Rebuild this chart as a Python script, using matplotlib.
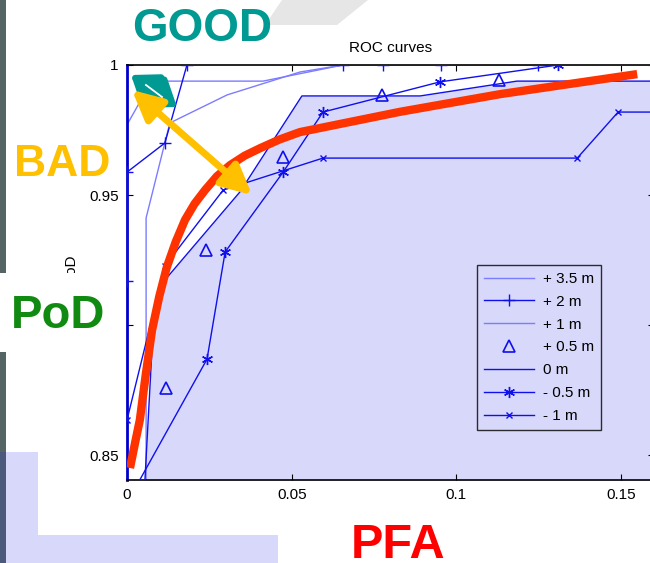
import matplotlib
matplotlib.use('Agg')
import matplotlib.pyplot as plt
from matplotlib.patches import Rectangle, Polygon
from matplotlib.lines import Line2D

# ---------------- data ----------------
title = "ROC curves"
xlabel_txt = "PFA"
ylabel_txt = "PoD"
legend_labels = ["+ 3.5 m", "+ 2 m", "+ 1 m", "+ 0.5 m", "0 m", "- 0.5 m", "- 1 m"]

pfa_p35 = [0.0, 0.004, 0.011, 0.0413, 0.0656, 0.16]
pod_p35 = [0.977, 0.986, 0.9938, 0.9938, 1.0, 1.0]

pfa_p2 = [0.0, 0.0, 0.0115, 0.0182, 0.0656, 0.0777, 0.0954, 0.1249, 0.16]
pod_p2 = [0.917, 0.9588, 0.970, 1.0, 1.0, 1.0, 1.0, 1.0, 1.0]

pfa_p1 = [0.0058, 0.0058, 0.013, 0.0304, 0.0525, 0.0656, 0.16]
pod_p1 = [0.80, 0.9412, 0.9777, 0.9885, 0.9973, 1.0, 1.0]

pfa_p05 = [0.0118, 0.0240, 0.0474, 0.0774, 0.1130]
pod_p05 = [0.8758, 0.9288, 0.9646, 0.9885, 0.9942]

pfa_0 = [0.005, 0.0079, 0.0115, 0.0343, 0.0531, 0.0890, 0.1184, 0.16]
pod_0 = [0.83, 0.898, 0.9173, 0.9512, 0.9881, 0.9881, 0.9938, 0.9938]

pfa_m05 = [0.0015, 0.0243, 0.0298, 0.0474, 0.0595, 0.0950, 0.1309, 0.16]
pod_m05 = [0.835, 0.8869, 0.9281, 0.9588, 0.9819, 0.9935, 1.0, 1.0]

pfa_m1 = [0.0, 0.0115, 0.0292, 0.0595, 0.1367, 0.1491, 0.16]
pod_m1 = [0.8635, 0.9227, 0.9519, 0.9642, 0.9642, 0.9819, 0.9819]

pfa_fit = [0.0009, 0.0025, 0.0039, 0.0057, 0.0076, 0.0098, 0.0121, 0.0148, 0.0176, 0.0205,
           0.0237, 0.0273, 0.0313, 0.0357, 0.0404, 0.0462, 0.0525, 0.0829, 0.1133, 0.1549]
pod_fit = [0.845, 0.855, 0.8635, 0.881, 0.898, 0.911, 0.9223, 0.932, 0.9404, 0.9466,
           0.9519, 0.9572, 0.9615, 0.9651, 0.968, 0.9713, 0.9742, 0.982, 0.9888, 0.9965]

xticks = [0, 0.05, 0.1, 0.15]
xticklabels = ["0", "0.05", "0.1", "0.15"]
yticks = [0.85, 0.9, 0.95, 1.0]
yticklabels = ["0.85", "0.9", "0.95", "1"]

# ---------------- style ----------------
W, H = 650, 563
DARK = '#1010ee'
LIGHT = '#7c7cff'
LAV = '#d8d8fa'

plt.rcParams['font.family'] = ['Liberation Sans', 'DejaVu Sans']

fig = plt.figure(figsize=(W / 100, H / 100), dpi=100)
fig.patch.set_facecolor('white')

def fx(px):
    return px / W

def fy(py):
    return 1 - py / H

# slide decorations (behind axes)
fig.add_artist(Polygon([(fx(265), fy(25)), (fx(282), fy(0)), (fx(368), fy(0)), (fx(337), fy(25))],
                       closed=True, transform=fig.transFigure, facecolor='#e6e6e6', edgecolor='none', zorder=-5))

ax = fig.add_axes([fx(127), fy(480), (654 - 127) / W, (480 - 65) / H])
ax.set_facecolor('white')
ax.set_xlim(0, 0.16)
ax.set_ylim(0.8404, 1.0)

ax.fill_between(pfa_0, pod_0, 0.80, color=LAV, lw=0, zorder=0.5)

ax.plot(pfa_p35, pod_p35, color=LIGHT, lw=1.0, label=legend_labels[0], zorder=2)
ax.plot(pfa_p2, pod_p2, color=DARK, lw=1.0, marker='+', ms=8, mew=1.0,
        markevery=list(range(len(pfa_p2) - 1)), label=legend_labels[1], zorder=3)
ax.plot(pfa_p1, pod_p1, color=LIGHT, lw=1.0, label=legend_labels[2], zorder=2)
ax.plot(pfa_p05, pod_p05, linestyle='none', marker='^', ms=9, mfc='none', mec=DARK, mew=1.2,
        label=legend_labels[3], zorder=3)
ax.plot(pfa_0, pod_0, color=DARK, lw=1.0, label=legend_labels[4], zorder=3)
ax.plot(pfa_m05, pod_m05, color=DARK, lw=1.0, marker=(6, 2, 0), ms=8, mew=1.0,
        markevery=list(range(1, len(pfa_m05) - 1)), label=legend_labels[5], zorder=3)
ax.plot(pfa_m1, pod_m1, color=DARK, lw=1.0, marker='x', ms=5, mew=1.0,
        markevery=list(range(len(pfa_m1) - 1)), label=legend_labels[6], zorder=3)

ax.plot(pfa_fit, pod_fit, color='#ff3300', lw=6, solid_capstyle='butt', solid_joinstyle='round', zorder=4)

ax.set_xticks(xticks)
ax.set_xticklabels(xticklabels)
ax.set_yticks(yticks)
ax.set_yticklabels(yticklabels)
ax.tick_params(direction='in', length=4, width=0.8, top=True, right=True,
               labelsize=11, colors='black', pad=6)
for s in ['top', 'bottom', 'right']:
    ax.spines[s].set_color('black')
    ax.spines[s].set_linewidth(1.2)
ax.spines['left'].set_color('#0000cc')
ax.spines['left'].set_linewidth(2.0)
ax.set_title(title, fontsize=11, pad=9)
ax.set_ylabel(ylabel_txt, fontsize=11)
ax.yaxis.set_label_coords(-0.093, 0.51)

leg = ax.legend(loc='upper left', bbox_to_anchor=(0.664, 0.518), fontsize=11, frameon=True,
                fancybox=False, edgecolor='black', facecolor='none', framealpha=None,
                handlelength=3.3, labelspacing=0.58, borderpad=0.45, handletextpad=0.55,
                borderaxespad=0, numpoints=1)
leg.get_frame().set_linewidth(1.0)

# foreground slide decorations
fig.add_artist(Rectangle((fx(0), fy(273)), fx(6), 273 / H, transform=fig.transFigure,
                         facecolor='#556565', edgecolor='none', zorder=5))
fig.add_artist(Rectangle((fx(0), fy(452)), fx(6), 100 / H, transform=fig.transFigure,
                         facecolor='#556565', edgecolor='none', zorder=5))
fig.add_artist(Rectangle((fx(0), fy(563)), fx(6), 111 / H, transform=fig.transFigure,
                         facecolor='#4b5a7c', edgecolor='none', zorder=5))
fig.add_artist(Rectangle((fx(6), fy(563)), fx(32), 111 / H, transform=fig.transFigure,
                         facecolor=LAV, edgecolor='none', zorder=5))
fig.add_artist(Rectangle((fx(6), fy(563)), fx(272), 28 / H, transform=fig.transFigure,
                         facecolor=LAV, edgecolor='none', zorder=5))
# white box behind PoD
fig.add_artist(Rectangle((fx(0), fy(352)), fx(119), 79 / H, transform=fig.transFigure,
                         facecolor='white', edgecolor='none', zorder=5))

# big slide labels
fig.text(fx(202), fy(29), "GOOD", weight='bold', fontsize=33,
         color='#009a93', ha='center', va='center', zorder=7)
fig.text(fx(62), fy(164), "BAD", weight='bold', fontsize=32,
         color='#ffc000', ha='center', va='center', zorder=7)
fig.text(fx(58), fy(316), "PoD", weight='bold', fontsize=34,
         color='#118a11', ha='center', va='center', zorder=7)
fig.text(fx(398), fy(545), xlabel_txt, weight='bold', fontsize=35,
         color='#ff0000', ha='center', va='center', zorder=7)

# arrows
a1 = ax.annotate('', xy=(131, H - 75), xytext=(177, H - 107), xycoords='figure pixels',
                 textcoords='figure pixels', annotation_clip=False,
                 arrowprops=dict(arrowstyle='<|-|>,head_length=0.75,head_width=0.55',
                                 color='#009a93', lw=4.5, mutation_scale=20, shrinkA=0, shrinkB=0))
a1.set_zorder(8)
fig.add_artist(Line2D([fx(146), fx(162)], [fy(85), fy(97)], transform=fig.transFigure,
                      color='white', lw=1.3, zorder=8.5))
a2 = ax.annotate('', xy=(132, H - 90), xytext=(252, H - 195), xycoords='figure pixels',
                 textcoords='figure pixels', annotation_clip=False,
                 arrowprops=dict(arrowstyle='<|-|>,head_length=0.9,head_width=0.45',
                                 color='#ffc000', lw=5, mutation_scale=20, shrinkA=0, shrinkB=0))
a2.set_zorder(9)

fig.savefig('out.png', dpi=100, facecolor='white')
